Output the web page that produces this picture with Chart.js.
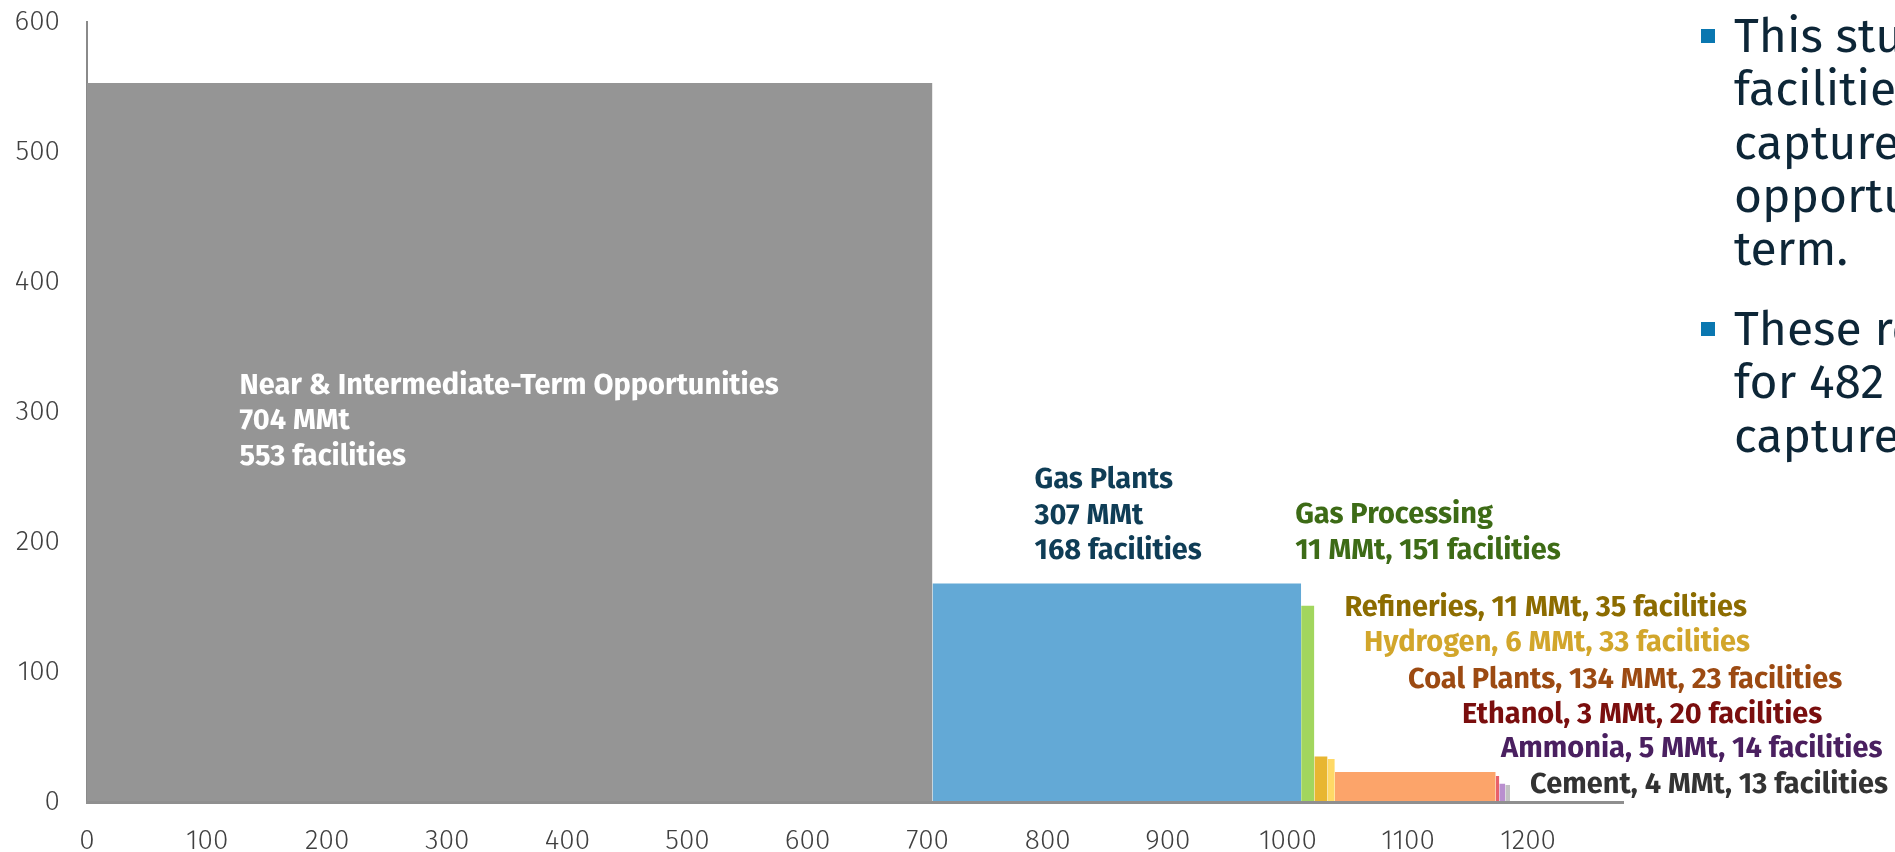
<!DOCTYPE html>
<html>
<head>
<meta charset="utf-8">
<title>Capture opportunities</title>
<script src="https://cdn.jsdelivr.net/npm/chart.js@4.4.1/dist/chart.umd.min.js"></script>
<style>
    html, body { margin: 0; padding: 0; background: #fff; overflow: hidden; }
    #wrap { position: relative; width: 1895px; height: 852px; overflow: hidden; }
    #chartBox { position: absolute; left: 0; top: 0; width: 1895px; height: 852px; }
    .notes { position: absolute; left: 1734px; top: 10px; width: 500px; font-family: 'Fira Sans', Roboto, sans-serif;
             font-size: 48px; line-height: 53.3px; color: #0d2637; white-space: nowrap; }
    .notes p { position: relative; margin: 0; }
    .notes p + p { margin-top: 26.7px; }
    .notes p::before { content: ''; position: absolute; left: -33px; top: 19px; width: 14px; height: 14px; background: #0a77b0; }
</style>
</head>
<body>
<div id="wrap">
    <div id="chartBox"><canvas id="stepChart"></canvas></div>
    <div class="notes">
        <p>This study<br>facilities<br>capture<br>opportunities<br>term.</p>
        <p>These results<br>for 482<br>capture</p>
    </div>
</div>
<script>
// Dữ liệu: độ rộng cột = MMt, chiều cao cột = số cơ sở
var sectors = ['Near & Intermediate-Term Opportunities', 'Gas Plants', 'Gas Processing', 'Refineries',
    'Hydrogen', 'Coal Plants', 'Ethanol', 'Ammonia', 'Cement'];
var mmt = [704, 307, 11, 11, 6, 134, 3, 5, 4];
var facilities = [553, 168, 151, 35, 33, 23, 20, 14, 13];
var xTickStep = 100;
var yTickStep = 100;

// Màu cột và màu chữ
var barColors = ['#959595', '#63a9d6', '#a2d65e', '#e8b631', '#ffd966', '#fca46a', '#e8606a', '#b98fcf', '#c2c2c2'];
var labelColors = ['#ffffff', '#0f3d56', '#3d6b16', '#8c6c00', '#d2a62b', '#9c4a12', '#7a0e0e', '#4a2060', '#333333'];
// Vị trí nhãn (theo toạ độ trục)
var labelAt = [[127, 314], [789, 241.5], [1006, 214.6], [1047, 143], [1063.4, 116.2],
    [1100, 87.7], [1145, 60.8], [1177.5, 34.6], [1201.6, 6.9]];

var fontFamily = '"Fira Sans", Roboto, sans-serif';

// Điểm bắt đầu của từng cột (cộng dồn)
var starts = [];
var acc = 0;
mmt.forEach(function (w) {
    starts.push(acc);
    acc += w;
});

function labelLines(i) {
    if (i < 2)
        return [sectors[i], mmt[i] + ' MMt', facilities[i] + ' facilities'];
    if (i === 2)
        return [sectors[i], mmt[i] + ' MMt, ' + facilities[i] + ' facilities'];
    return [sectors[i] + ', ' + mmt[i] + ' MMt, ' + facilities[i] + ' facilities'];
}

// Mỗi cột là một đoạn thẳng nằm ngang, tô xuống trục 0
var datasets = sectors.map(function (name, i) {
    return {
        label: name,
        data: [{x: starts[i], y: facilities[i]}, {x: starts[i] + mmt[i], y: facilities[i]}],
        backgroundColor: barColors[i],
        borderColor: 'rgba(0,0,0,0)',
        borderWidth: 0,
        pointRadius: 0,
        fill: 'origin',
        tension: 0
    };
});

var sectorLabels = {
    id: 'sectorLabels',
    afterDatasetsDraw: function (chart) {
        var ctx = chart.ctx;
        var xs = chart.scales.x, ys = chart.scales.y;
        ctx.save();
        ctx.font = '700 29px ' + fontFamily;
        ctx.textAlign = 'left';
        ctx.textBaseline = 'alphabetic';
        sectors.forEach(function (name, i) {
            var px = xs.getPixelForValue(labelAt[i][0]);
            var py = ys.getPixelForValue(labelAt[i][1]);
            ctx.fillStyle = labelColors[i];
            labelLines(i).forEach(function (line, k) {
                ctx.fillText(line, px, py + k * 35.5);
            });
        });
        ctx.restore();
    }
};

var tickFont = {family: fontFamily, size: 28, weight: 300};

new Chart(document.getElementById('stepChart'), {
    type: 'line',
    data: {datasets: datasets},
    plugins: [sectorLabels],
    options: {
        responsive: true,
        maintainAspectRatio: false,
        animation: false,
        layout: {padding: {left: 0, right: 272, top: 22, bottom: 0}},
        plugins: {
            legend: {display: false},
            tooltip: {enabled: false}
        },
        scales: {
            x: {
                type: 'linear',
                min: 0,
                max: 1279,
                grid: {display: false, drawTicks: false},
                border: {display: true, color: '#8f8f8f', width: 3, z: 1},
                ticks: {
                    stepSize: xTickStep, includeBounds: false, padding: 22, color: '#404040', font: tickFont, maxRotation: 0,
                    callback: function (value) {
                        return String(value);
                    }
                },
                afterFit: function (scale) {
                    scale.height = 50;
                }
            },
            y: {
                type: 'linear',
                min: 0,
                max: 600,
                grid: {display: false, drawTicks: false},
                border: {display: true, color: '#8a8a8a', width: 2},
                ticks: {stepSize: yTickStep, padding: 27, color: '#404040', font: tickFont},
                afterFit: function (scale) {
                    // bỏ khoảng đệm trên/dưới mà nhãn trục y tự thêm vào
                    scale.width = 87;
                    scale.paddingTop = 0;
                    scale.paddingBottom = 0;
                }
            }
        }
    }
});
</script>
</body>
</html>
